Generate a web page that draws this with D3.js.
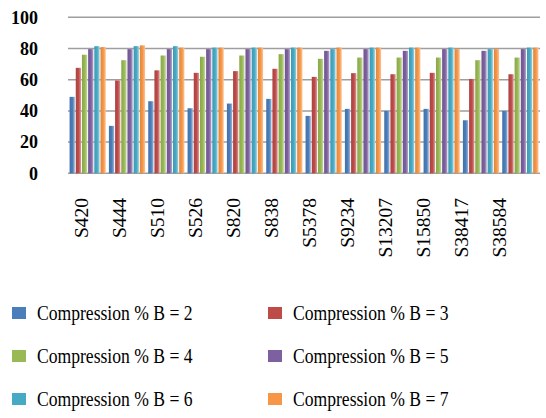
<!DOCTYPE html>
<html>
<head>
<meta charset="utf-8">
<script src="https://cdn.jsdelivr.net/npm/d3@7"></script>
<style>
  body { margin: 0; background: #fff; }
  text { font-family: "Liberation Serif", "Times New Roman", serif; fill: #000; }
</style>
</head>
<body>
<div id="chart"></div>
<script>
// circuits along the x axis
var circuits = ["S420", "S444", "S510", "S526", "S820", "S838", "S5378", "S9234", "S13207", "S15850", "S38417", "S38584"];
var seriesNames = ["Compression % B = 2", "Compression % B = 3", "Compression % B = 4", "Compression % B = 5", "Compression % B = 6", "Compression % B = 7"];
var yTicks = [0, 20, 40, 60, 80, 100];

// compression % per circuit, one array per B
var b2 = [49, 30.4, 46.2, 41.7, 44.7, 47.7, 36.8, 41.3, 40, 41.3, 34, 40];
var b3 = [67.6, 59.5, 66, 64.4, 65.5, 67, 61.8, 64.2, 63.5, 64.4, 60.5, 63.5];
var b4 = [76, 72.5, 75.5, 74.7, 75.5, 76.4, 73.4, 74.2, 74.2, 74.2, 72.5, 74.2];
var b5 = [79.6, 79.6, 79.6, 79.6, 79.6, 79.6, 78.5, 79.6, 78.5, 79.6, 78.5, 79.6];
var b6 = [81.5, 81.5, 81.5, 80.6, 80.6, 80.6, 79.6, 80.6, 80.6, 80.6, 79.6, 80.6];
var b7 = [80.9, 82, 80.6, 80.6, 80.6, 80.6, 80.6, 80.6, 80.6, 79.6, 79.6, 80.6];

var series = [b2, b3, b4, b5, b6, b7];
var colors = ["#4a7ebb", "#be4b48", "#98b954", "#7d60a0", "#46aac5", "#f79646"];

var width = 546, height = 418;
var plotLeft = 68, plotRight = 540, plotTop = 17.3, plotBottom = 173.3;

var svg = d3.select("#chart").append("svg")
    .attr("width", width)
    .attr("height", height);

// bar gradients, dark on the left, lighter to the right
var defs = svg.append("defs");
colors.forEach(function(c, i) {
  var g = defs.append("linearGradient")
      .attr("id", "grad" + i)
      .attr("x1", "0%").attr("x2", "100%").attr("y1", "0%").attr("y2", "0%");
  g.append("stop").attr("offset", "0%").attr("stop-color", d3.color(c).darker(0.3));
  g.append("stop").attr("offset", "55%").attr("stop-color", c);
  g.append("stop").attr("offset", "100%").attr("stop-color", d3.interpolateRgb(c, "#fff")(0.45));
});

var x = d3.scaleBand()
    .domain(circuits)
    .range([plotLeft, plotRight])
    .paddingInner(0.08)
    .paddingOuter(0.04);

var xSub = d3.scaleBand()
    .domain(d3.range(series.length))
    .range([0, x.bandwidth()])
    .paddingInner(0.15);

var y = d3.scaleLinear()
    .domain([0, 100])
    .range([plotBottom, plotTop]);

// gridlines
svg.append("g")
  .selectAll("line")
  .data(yTicks)
  .enter()
  .append("line")
    .attr("x1", plotLeft)
    .attr("x2", plotRight)
    .attr("y1", function(d) { return y(d); })
    .attr("y2", function(d) { return y(d); })
    .attr("stroke", "#9e9e9e")
    .attr("stroke-width", 1.5);

// y labels
var yAxis = d3.axisLeft(y).tickValues(yTicks).tickSize(0).tickPadding(0);
var yG = svg.append("g")
    .attr("transform", "translate(38,0)")
    .call(yAxis);
yG.select(".domain").remove();
yG.selectAll("text")
    .style("font-family", "'Liberation Serif', serif")
    .style("font-size", "18px")
    .style("font-weight", "bold")
    .attr("fill", "#000");

// bars
var groups = svg.append("g")
  .selectAll("g")
  .data(circuits)
  .enter()
  .append("g")
    .attr("transform", function(d) { return "translate(" + x(d) + ",0)"; });

groups.selectAll("rect")
  .data(function(d, i) { return series.map(function(s, k) { return {k: k, v: s[i]}; }); })
  .enter()
  .append("rect")
    .attr("x", function(d) { return xSub(d.k); })
    .attr("width", xSub.bandwidth())
    .attr("y", function(d) { return y(d.v); })
    .attr("height", function(d) { return y(0) - y(d.v); })
    .attr("fill", function(d) { return "url(#grad" + d.k + ")"; });

// category labels, rotated
var xLabel = x.copy().range([62, 518]);
var xAxis = d3.axisBottom(xLabel).tickSize(0).tickPadding(0);
var xG = svg.append("g")
    .attr("transform", "translate(0,198)")
    .call(xAxis);
xG.select(".domain").remove();
xG.selectAll("text")
    .attr("transform", "rotate(-90)")
    .attr("text-anchor", "end")
    .attr("x", 0)
    .attr("y", 0)
    .attr("dy", "0.35em")
    .style("font-family", "'Liberation Serif', serif")
    .style("font-size", "19.5px")
    .attr("fill", "#000");

// legend, two columns
var legend = svg.append("g")
  .selectAll("g")
  .data(seriesNames)
  .enter()
  .append("g")
    .attr("transform", function(d, i) {
      return "translate(" + (i % 2 === 0 ? 12 : 268) + "," + (307 + Math.floor(i / 2) * 43) + ")";
    });

legend.append("rect")
    .attr("width", 14)
    .attr("height", 12)
    .attr("fill", function(d, i) { return colors[i]; });

// text in the source is a bit narrow for its height
legend.append("text")
    .attr("transform", "translate(25,13) scale(0.88,1)")
    .style("font-size", "20px")
    .text(function(d) { return d; });
</script>
</body>
</html>
